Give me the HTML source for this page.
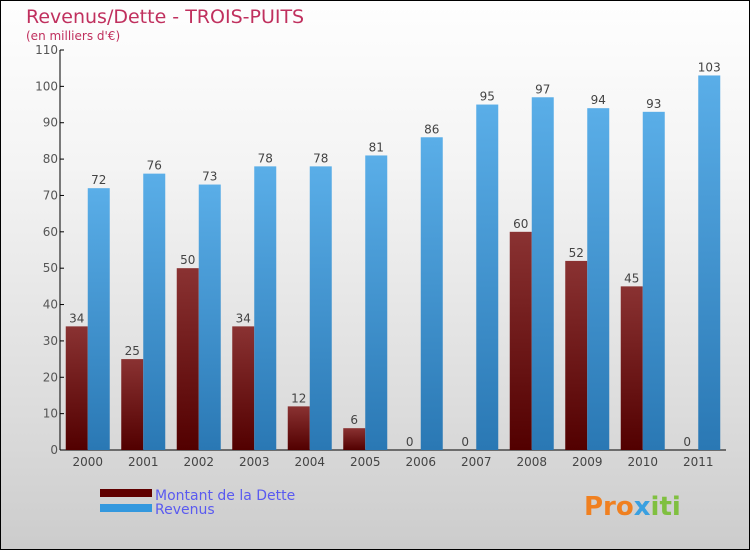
<!DOCTYPE html>
<html><head><meta charset="utf-8"><style>
html,body{margin:0;padding:0}
body{width:750px;height:550px;overflow:hidden;font-family:"DejaVu Sans","Liberation Sans",sans-serif}
#wrap{position:absolute;left:0;top:0;width:748px;height:548px;border:1px solid #000;background:linear-gradient(#fefefe,#f4f4f4 30%,#dcdcdc 75%,#cccccc)}
</style></head><body>
<div id="wrap">
<svg width="750" height="550" style="position:absolute;left:-1px;top:-1px">
<defs>
<linearGradient id="gd" x1="0" y1="0" x2="0" y2="1"><stop offset="0" stop-color="#8a3232"/><stop offset="1" stop-color="#520000"/></linearGradient>
<linearGradient id="gr" x1="0" y1="0" x2="0" y2="1"><stop offset="0" stop-color="#5aaee8"/><stop offset="1" stop-color="#2a78b4"/></linearGradient>
</defs>
<text x="26" y="23" font-size="19" fill="#c0305e">Revenus/Dette - TROIS-PUITS</text>
<text x="26" y="40" font-size="12" fill="#c0305e">(en milliers d'€)</text>
<g id="plot"></g>
<rect x="100" y="489" width="52" height="8" fill="#600000"/>
<rect x="100" y="504" width="52" height="8" fill="#3398de"/>
<text x="155" y="500" font-size="14" fill="#5a5af0">Montant de la Dette</text>
<text x="155" y="514" font-size="14" fill="#5a5af0">Revenus</text>
<text x="584" y="515" font-size="26" font-weight="bold" fill="#f08020">Pro<tspan fill="#3aa0e0">x</tspan><tspan fill="#80c040">iti</tspan></text>
</svg></div>
<script>
const categories=["2000","2001","2002","2003","2004","2005","2006","2007","2008","2009","2010","2011"];
const detteValues=[34,25,50,34,12,6,0,0,60,52,45,0];
const revenusValues=[72,76,73,78,78,81,86,95,97,94,93,103];
const yTicks=[0,10,20,30,40,50,60,70,80,90,100,110];
const NS="http://www.w3.org/2000/svg";
const g=document.getElementById("plot");
const x0=60,x1=726,y0=450,yTop=50,band=(x1-x0)/categories.length,bw=22;
function yS(v){return y0-(v/110)*(y0-yTop);}
function xC(i){return x0+band*(i+0.5);}
function mk(t,a,txt){const e=document.createElementNS(NS,t);for(const k in a)e.setAttribute(k,a[k]);if(txt!==undefined)e.textContent=txt;g.appendChild(e);return e;}
let e;
e=mk("line",{x1:x0,y1:yTop,x2:x0,y2:y0,stroke:"#000"});


e=mk("line",{x1:x0,y1:y0,x2:x1,y2:y0,stroke:"#000"});


yTicks.forEach(v=>{
 e=mk("line",{x1:x0,y1:yS(v),x2:x0+4,y2:yS(v),stroke:"#000"});
 
 
 e=mk("text",{x:x0-2,y:yS(v)+4,"font-size":12,fill:"#555","text-anchor":"end"},v);
 
 
});
categories.forEach((c,i)=>{
 const cx=xC(i);
 e=mk("text",{x:cx,y:y0+16,"font-size":12,fill:"#444","text-anchor":"middle"},c);
 
 
 const d=detteValues[i],r=revenusValues[i];
 e=mk("rect",{x:cx-bw,y:yS(d),width:bw,height:y0-yS(d),fill:"url(#gd)"});
 
 
 e=mk("text",{x:cx-bw/2,y:yS(d)-4,"font-size":12,fill:"#444","text-anchor":"middle"},d);
 
 
 e=mk("rect",{x:cx,y:yS(r),width:bw,height:y0-yS(r),fill:"url(#gr)"});
 
 
 e=mk("text",{x:cx+bw/2,y:yS(r)-4,"font-size":12,fill:"#444","text-anchor":"middle"},r);
 
 
});
</script>
</body></html>
